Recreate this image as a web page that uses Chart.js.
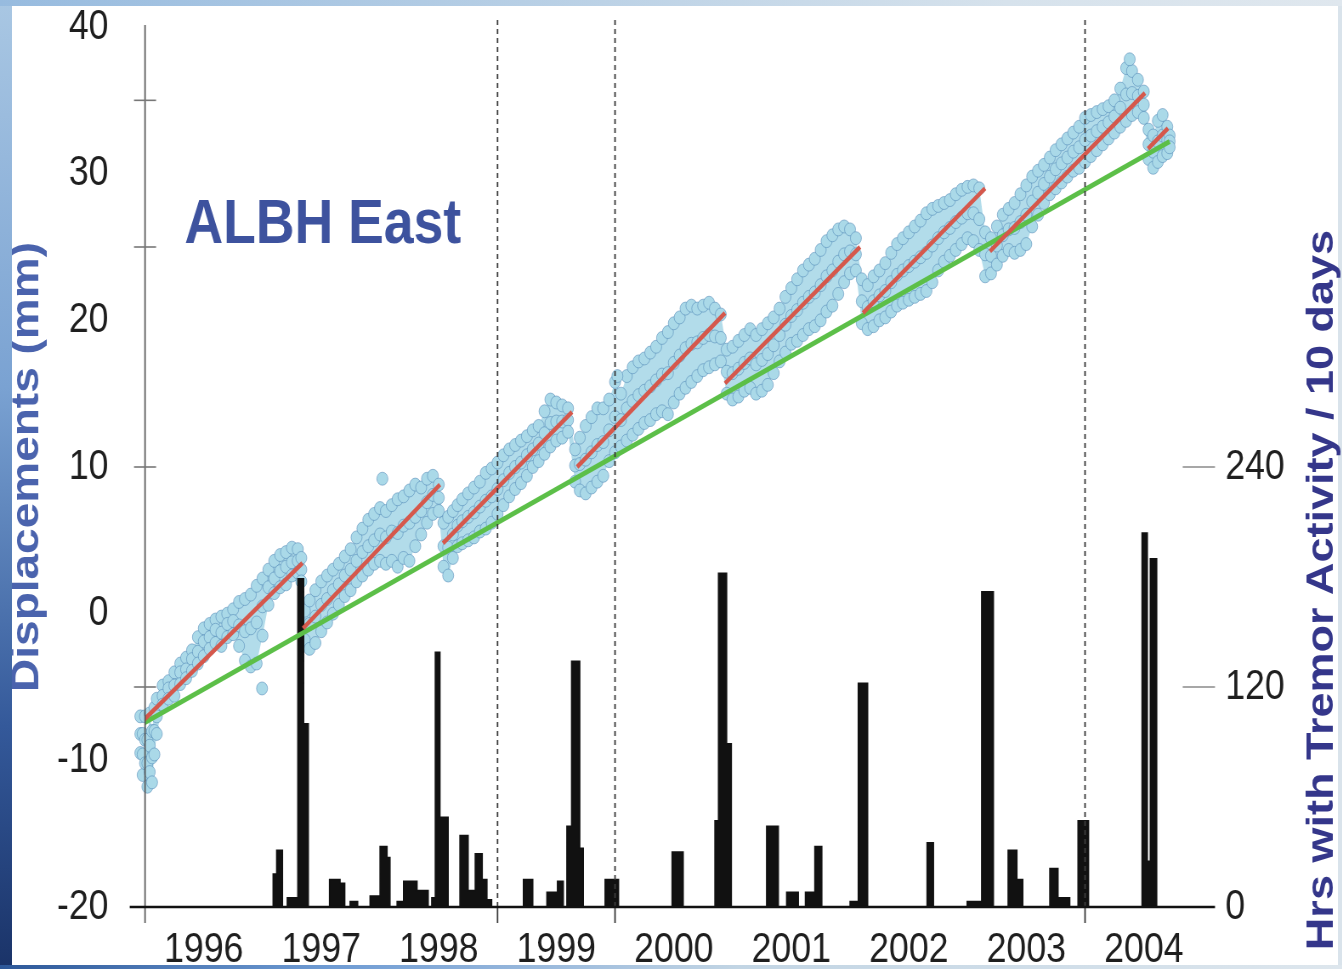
<!DOCTYPE html>
<html>
<head>
<meta charset="utf-8">
<script src="https://cdn.jsdelivr.net/npm/chart.js@4.4.1/dist/chart.umd.min.js"></script>
<style>
html,body{margin:0;padding:0;}
body{width:1342px;height:969px;overflow:hidden;position:relative;background:#d9e3eb;}
#leftStrip{position:absolute;left:0;top:0;width:12px;height:969px;background:linear-gradient(#a9c7e3,#7aa2d2 40%,#34599a 75%,#1a3368);z-index:3;}
#topStrip{position:absolute;left:0;top:0;width:1342px;height:6px;background:linear-gradient(to right,#97bbdf,#bcd2e6 45%,#d6e2ec 75%,#dfe7ee);z-index:3;}
#bottomStrip{position:absolute;left:0;top:965px;width:1342px;height:4px;background:linear-gradient(to right,#2d5899,#6f9cd4 25%,#c2d5e4 55%,#dde6ed);z-index:3;}
#panel{position:absolute;left:12px;top:6px;width:1326px;height:959px;background:#fff;z-index:1;}
#wrap{position:absolute;left:0;top:0;width:1579px;height:969px;transform:scaleX(0.85);transform-origin:0 0;z-index:2;}
</style>
</head>
<body>
<div id="panel"></div>
<div id="wrap"><canvas id="chart"></canvas></div>
<div id="leftStrip"></div>
<div id="topStrip"></div>
<div id="bottomStrip"></div>
<script>
// ---------- DATA ----------
const yearLabels = ['1996','1997','1998','1999','2000','2001','2002','2003','2004'];
const leftTickValues = [-20,-10,0,10,20,30,40];
const rightTickValues = [0,120,240];
const leftTickMarks = [35,25,10,-5];
const markerYears = [1999.0, 2000.0, 2004.0];

// GPS east displacement cloud (mm), read at sample times: high / middle / low parts of the cloud
const gpsT = [1995.96,1995.98,1996.00,1996.02,1996.04,1996.06,1996.08,1996.10,1996.15,1996.20,1996.25,1996.30,1996.35,1996.40,1996.45,1996.50,1996.55,1996.60,1996.65,1996.70,1996.75,1996.80,1996.85,1996.90,1996.95,1997.00,1997.05,1997.10,1997.15,1997.20,1997.25,1997.30,1997.33,
 1997.36,1997.40,1997.45,1997.50,1997.55,1997.60,1997.65,1997.70,1997.75,1997.80,1997.85,1997.90,1997.95,1998.00,1998.05,1998.10,1998.15,1998.20,1998.25,1998.30,1998.35,1998.40,1998.45,1998.50,
 1998.54,1998.58,1998.62,1998.66,1998.70,1998.75,1998.80,1998.85,1998.90,1998.95,1999.00,1999.05,1999.10,1999.15,1999.20,1999.25,1999.30,1999.35,1999.40,1999.45,1999.50,1999.55,1999.60,
 1999.66,1999.70,1999.75,1999.80,1999.85,1999.90,1999.95,2000.00,2000.05,2000.10,2000.15,2000.20,2000.25,2000.30,2000.35,2000.40,2000.45,2000.50,2000.55,2000.60,2000.65,2000.70,2000.75,2000.80,2000.85,2000.90,
 2000.95,2001.00,2001.05,2001.10,2001.15,2001.20,2001.25,2001.30,2001.35,2001.40,2001.45,2001.50,2001.55,2001.60,2001.65,2001.70,2001.75,2001.80,2001.85,2001.90,2001.95,2002.00,2002.05,
 2002.10,2002.15,2002.20,2002.25,2002.30,2002.35,2002.40,2002.45,2002.50,2002.55,2002.60,2002.65,2002.70,2002.75,2002.80,2002.85,2002.90,2002.95,2003.00,2003.05,2003.10,
 2003.15,2003.20,2003.25,2003.30,2003.35,2003.40,2003.45,2003.50,2003.55,2003.60,2003.65,2003.70,2003.75,2003.80,2003.85,2003.90,2003.95,2004.00,2004.05,2004.10,2004.15,2004.20,2004.25,2004.30,2004.35,2004.40,2004.45,2004.50,
 2004.54,2004.58,2004.62,2004.66,2004.70,2004.72];
const gpsHigh = [-7.0,-8.2,-7.0,-8.6,-6.8,-8.0,-6.4,-5.8,-4.9,-4.6,-4.0,-3.4,-3.0,-2.5,-1.6,-1.0,-0.7,-0.4,-0.2,0.0,0.3,0.8,1.0,1.3,1.9,2.4,3.0,3.6,4.0,4.2,4.5,4.4,3.8,
 0.2,0.9,1.6,2.2,2.6,3.0,3.4,3.9,4.4,5.2,5.8,6.4,6.8,7.2,7.0,7.4,7.8,8.0,8.4,8.8,8.6,9.2,9.4,8.8,
 6.2,6.6,7.0,7.4,7.8,8.2,8.6,9.0,9.6,9.9,10.3,10.8,11.2,11.5,11.8,12.1,12.5,12.8,13.8,14.6,14.4,14.2,14.0,
 11.2,12.0,12.8,13.4,14.0,14.0,14.6,15.8,15.0,16.2,16.8,17.2,17.4,17.8,18.2,18.8,19.2,19.8,20.2,20.8,21.0,20.8,21.0,21.2,20.8,20.4,
 18.0,18.2,18.6,19.0,19.4,19.0,19.4,19.8,20.2,20.8,21.6,22.2,22.8,23.4,23.8,24.2,24.8,25.4,25.8,26.2,26.4,26.2,25.6,
 22.8,22.4,23.0,23.4,23.9,24.6,25.2,25.6,26.0,26.4,26.8,27.3,27.6,27.8,28.0,28.2,28.6,28.9,29.1,29.2,29.0,
 26.0,25.6,26.4,27.2,27.6,28.0,28.6,29.2,29.8,30.2,30.6,31.1,31.6,32.0,32.4,32.8,33.2,33.8,34.0,34.2,34.4,34.6,35.0,35.8,37.2,37.0,36.4,35.6,
 33.0,32.6,33.6,34.0,33.2,32.6];
const gpsMid = [-8.2,-9.6,-8.6,-10.2,-9.0,-9.8,-8.0,-7.0,-5.6,-5.1,-4.9,-4.0,-3.8,-3.1,-2.6,-1.9,-1.6,-1.1,-1.3,-0.7,-0.5,-0.8,-1.2,-1.0,-0.6,0.5,1.8,2.4,2.9,3.2,3.5,3.6,3.0,
 -0.8,-0.7,-0.2,0.6,1.0,1.6,2.0,2.6,3.0,3.6,4.2,4.6,5.0,5.4,5.2,5.6,5.5,6.0,6.2,6.6,7.0,7.6,8.1,7.9,
 4.6,4.5,5.4,6.0,6.3,6.6,6.9,7.3,7.7,8.0,8.5,9.1,9.6,10.0,10.3,10.8,11.2,11.6,12.3,13.0,13.1,13.1,13.2,
 10.1,10.2,10.5,11.0,11.5,11.7,12.5,13.4,13.2,14.0,14.5,14.9,15.2,15.5,15.9,16.3,16.4,17.1,17.6,18.1,18.4,18.5,18.8,19.0,18.9,18.8,
 16.5,16.4,16.7,17.1,17.4,17.0,17.3,17.7,18.3,19.0,19.7,20.3,20.7,21.2,21.6,21.9,22.4,23.0,23.4,24.0,24.5,24.7,24.5,
 21.3,20.9,21.3,21.7,22.0,22.6,23.1,23.4,23.7,24.0,24.3,24.6,25.1,25.6,26.0,26.3,26.7,27.0,27.3,27.3,26.9,
 24.5,24.4,25.1,25.8,26.2,26.3,26.7,27.2,28.1,28.7,29.3,29.8,30.3,30.7,31.1,31.5,31.8,32.3,32.6,32.9,33.2,33.5,33.9,34.5,35.4,35.5,35.3,34.7,
 32.0,31.5,32.2,32.6,32.3,32.2];
const gpsLow = [-9.5,-11.0,-10.2,-11.8,-10.8,-11.5,-9.6,-8.2,-6.2,-5.8,-5.6,-4.8,-4.4,-3.9,-3.4,-2.9,-2.4,-2.0,-2.2,-1.6,-1.4,-2.2,-3.2,-3.6,-3.4,-1.5,0.6,1.4,1.8,2.0,2.6,2.8,2.2,
 -1.8,-2.4,-2.0,-1.2,-0.6,0.0,0.6,1.2,1.6,2.2,2.6,3.0,3.4,3.6,3.4,3.6,3.2,3.8,3.6,4.6,5.4,6.2,6.8,7.0,
 3.2,2.6,3.8,4.6,4.8,5.0,5.2,5.6,5.8,6.2,6.8,7.4,8.0,8.5,8.9,9.4,10.0,10.4,10.9,11.4,11.8,12.0,12.4,
 9.0,8.4,8.2,8.6,9.0,9.4,10.4,11.0,11.4,11.8,12.2,12.6,13.0,13.2,13.6,13.8,13.6,14.4,15.0,15.4,15.8,16.2,16.6,16.8,17.0,17.2,
 15.0,14.6,14.8,15.2,15.4,15.0,15.2,15.6,16.4,17.2,17.8,18.4,18.6,19.0,19.4,19.6,20.0,20.6,21.0,21.8,22.6,23.2,23.4,
 19.8,19.4,19.6,20.0,20.2,20.6,21.0,21.2,21.4,21.6,21.8,22.0,22.6,23.4,24.0,24.4,24.8,25.2,25.6,25.4,24.8,
 23.0,23.2,23.8,24.4,24.8,24.6,24.8,25.2,26.4,27.2,28.0,28.6,29.0,29.4,29.8,30.2,30.4,30.8,31.2,31.6,32.0,32.4,32.8,33.2,33.6,34.0,34.2,33.8,
 31.0,30.4,30.8,31.2,31.4,31.8];
const gpsOutlierT = [1996.996, 1998.02, 2000.02, 2004.38];
const gpsOutlierMm = [-5.1, 9.2, 16.2, 37.8];

// Red inter-event trend segments
const trendStartT  = [1995.97, 1997.345, 1998.536, 1999.677, 2000.936, 2002.11, 2003.19, 2004.536];
const trendStartMm = [-7.4, -1.0, 4.8, 10.0, 15.7, 20.5, 24.7, 31.7];
const trendEndT    = [1997.34, 1998.51, 1999.634, 2000.936, 2002.085, 2003.149, 2004.51, 2004.706];
const trendEndMm   = [3.45, 8.8, 13.75, 20.5, 25.0, 29.0, 35.5, 33.1];

// Green long-term trend
const longTermT  = [1995.96, 2004.72];
const longTermMm = [-7.6, 32.2];

// Tremor activity (hours per 10 days), value holds until next time
const tremorT = [1996.00,1997.09,1997.12,1997.17,1997.21,1997.30,1997.35,1997.39,1997.57,1997.66,1997.70,1997.745,1997.81,1997.915,1998.00,1998.06,1998.085,1998.145,1998.20,1998.315,1998.41,1998.44,1998.47,1998.51,1998.58,
 1998.68,1998.75,1998.81,1998.87,1998.91,1998.95,1999.22,1999.30,1999.42,1999.51,1999.56,1999.59,1999.63,1999.70,1999.73,1999.915,2000.03,2000.485,2000.58,2000.85,2000.88,2000.95,2000.99,
 2001.29,2001.39,2001.46,2001.56,2001.62,2001.70,2001.76,2002.00,2002.07,2002.15,2002.655,2002.71,2002.996,2003.12,2003.22,2003.345,2003.42,2003.47,2003.70,2003.77,2003.87,2003.94,2004.03,
 2004.485,2004.53,2004.555,2004.61,2005.10];
const tremorHrs = [0,18,31,0,5,179,100,0,15,13,0,3,0,6,33,27,0,3,14,9,0,5,139,49,0,
 39,9,29,15,4,0,15,0,8,14,0,44,134,32,0,15,0,30,0,47,182,89,0,
 44,0,8,0,8,33,0,3,122,0,35,0,3,172,0,31,15,0,21,5,0,47,0,
 204,25,190,0,0];

// ---------- BUILD ----------
const X_MIN = 1996.0, X_MAX = 2005.106;
const cloud = [];
gpsT.forEach((t,i)=>{ cloud.push({x:t,y:gpsHigh[i]}); cloud.push({x:t,y:gpsMid[i]}); cloud.push({x:t,y:gpsLow[i]}); });
gpsOutlierT.forEach((t,i)=>cloud.push({x:t,y:gpsOutlierMm[i]}));
const highData = gpsT.map((t,i)=>({x:t,y:gpsHigh[i]}));
const lowData = gpsT.map((t,i)=>({x:t,y:gpsLow[i]}));
const trendData = [];
trendStartT.forEach((t,i)=>{ trendData.push({x:t,y:trendStartMm[i]}); trendData.push({x:trendEndT[i],y:trendEndMm[i]}); trendData.push({x:trendEndT[i],y:null}); });
const longData = longTermT.map((t,i)=>({x:t,y:longTermMm[i]}));
const tremorData = tremorT.map((t,i)=>({x:t,y:tremorHrs[i]}));

const FONT = "'Liberation Sans', Arial, Helvetica, sans-serif";
Chart.defaults.font.family = FONT;

function seg(ctx,x1,y1,x2,y2){ctx.beginPath();ctx.moveTo(x1,y1);ctx.lineTo(x2,y2);ctx.stroke();}

const decor = {
  id:'decor',
  afterDatasetsDraw(chart){
    const {ctx, chartArea:{left,right,top,bottom}, scales:{x,y,y2}} = chart;
    ctx.save();
    ctx.strokeStyle = '#3c3c3c'; ctx.lineWidth = 1.8;
    ctx.setLineDash([5,4]);
    markerYears.forEach(t=>{const px=x.getPixelForValue(t); seg(ctx,px,top-7,px,bottom);});
    ctx.setLineDash([]);
    markerYears.forEach(t=>{const px=x.getPixelForValue(t); seg(ctx,px,bottom,px,bottom+16);});
    ctx.strokeStyle = '#555'; ctx.lineWidth = 1.7;
    seg(ctx,left,top-2,left,bottom+16);
    ctx.strokeStyle = '#777'; ctx.lineWidth = 1.6;
    leftTickMarks.forEach(v=>{const py=y.getPixelForValue(v); seg(ctx,left-13,py,left+13,py);});
    ctx.strokeStyle = '#8a8a8a'; ctx.lineWidth = 1.6;
    rightTickValues.forEach(v=>{ if(v===0) return; const py=y2.getPixelForValue(v); seg(ctx,right-38,py,right,py);});
    ctx.strokeStyle = '#111'; ctx.lineWidth = 2.6;
    seg(ctx,left-18,bottom,right,bottom);
    ctx.restore();
  },
  afterDraw(chart){
    const {ctx} = chart;
    ctx.save();
    ctx.fillStyle = '#3d529e';
    ctx.font = 'bold 63px ' + FONT;
    ctx.textAlign = 'left'; ctx.textBaseline = 'alphabetic';
    ctx.fillText('ALBH East', 217, 243);
    ctx.translate(1556, 590);
    ctx.rotate(-Math.PI/2);
    ctx.fillStyle = '#34368a';
    ctx.font = 'bold 45px ' + FONT;
    ctx.textAlign = 'center'; ctx.textBaseline = 'middle';
    ctx.fillText('Hrs with Tremor Activity / 10 days', 0, 0);
    ctx.restore();
  }
};

function noPadY(s, w){ s.width = w; s.paddingTop = 0; s.paddingBottom = 0; }

new Chart(document.getElementById('chart'), {
  type: 'scatter',
  data: {
    datasets: [
      {type:'line', label:'trend', data: trendData, yAxisID:'y', borderColor:'#d5584c', borderWidth:4.5, pointRadius:0, spanGaps:false, order:0},
      {type:'line', label:'long', data: longData, yAxisID:'y', borderColor:'#5cbf48', borderWidth:5, pointRadius:0, order:1},
      {type:'line', label:'tremor', data: tremorData, yAxisID:'y2', stepped:true, borderColor:'#111', backgroundColor:'#111', borderWidth:1.5, pointRadius:0, fill:'origin', order:2},
      {type:'scatter', label:'gps', data: cloud, yAxisID:'y', pointRadius:6.5, backgroundColor:'#aad9e8', borderColor:'rgba(72,128,178,0.5)', borderWidth:1, clip:false, order:3},
      {type:'line', label:'gpsHighEdge', data: highData, yAxisID:'y', borderWidth:0, borderColor:'rgba(0,0,0,0)', pointRadius:0, backgroundColor:'#b2dcea', fill:5, order:4},
      {type:'line', label:'gpsLowEdge', data: lowData, yAxisID:'y', borderWidth:0, borderColor:'rgba(0,0,0,0)', pointRadius:0, fill:false, order:5}
    ]
  },
  options: {
    responsive:true, maintainAspectRatio:false, animation:false, events:[],
    layout:{autoPadding:false, padding:{top:27,left:0,right:0,bottom:0}},
    plugins:{legend:{display:false}, tooltip:{enabled:false}},
    scales:{
      x:{type:'linear', min:X_MIN, max:X_MAX,
         grid:{display:false, drawTicks:false}, border:{display:false},
         afterBuildTicks:(s)=>{ s.ticks = yearLabels.map(l=>({value: Number(l)+0.5})); },
         afterFit:(s)=>{ s.height = 62; s.paddingLeft = 0; s.paddingRight = 0; },
         ticks:{autoSkip:false, maxRotation:0, padding:18, color:'#1e1e1e', font:{size:42},
                callback:(v)=>yearLabels[Math.floor(v)-1996] }},
      y:{type:'linear', position:'left', min:-20, max:40,
         grid:{display:false, drawTicks:false}, border:{display:false},
         afterBuildTicks:(s)=>{ s.ticks = leftTickValues.map(v=>({value:v})); },
         afterFit:(s)=>noPadY(s,170.6),
         ticks:{padding:43, color:'#1e1e1e', font:{size:42}},
         title:{display:true, text:'Displacements (mm)', color:'#4a63ad', font:{size:46, weight:'bold'}, padding:{top:5,bottom:0}}},
      y2:{type:'linear', position:'right', min:0, max:480,
         grid:{display:false, drawTicks:false}, border:{display:false},
         afterBuildTicks:(s)=>{ s.ticks = rightTickValues.map(v=>({value:v})); },
         afterFit:(s)=>noPadY(s,149.6),
         ticks:{padding:12, color:'#1e1e1e', font:{size:42}}}
    }
  },
  plugins:[decor]
});
</script>
</body>
</html>
